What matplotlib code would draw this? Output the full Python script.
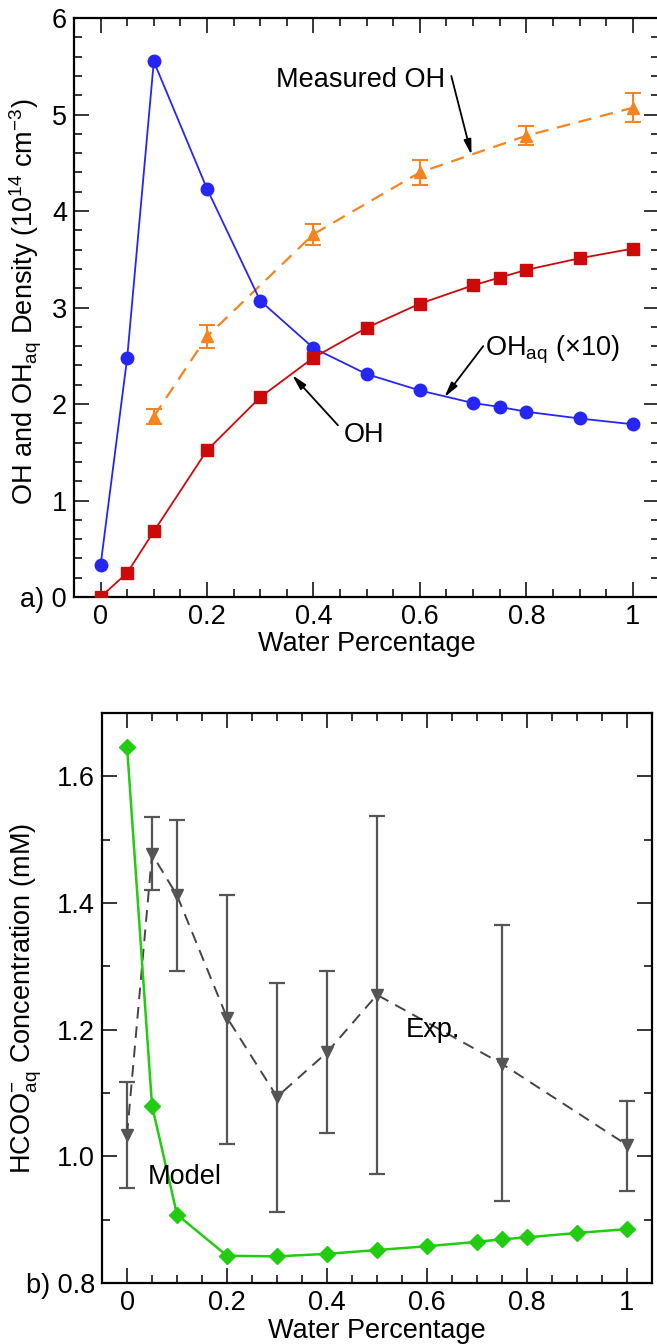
import matplotlib
matplotlib.use("Agg")
import matplotlib.pyplot as plt
from matplotlib.ticker import MultipleLocator
import numpy as np

plt.rcParams['font.family'] = ['Liberation Sans', 'DejaVu Sans']
plt.rcParams['mathtext.fontset'] = 'custom'
plt.rcParams['mathtext.rm'] = 'Liberation Sans'
plt.rcParams['mathtext.it'] = 'Liberation Sans:italic'
plt.rcParams['mathtext.default'] = 'regular'

FS = 19.5

# panel a) data
x_model = [0, 0.05, 0.1, 0.2, 0.3, 0.4, 0.5, 0.6, 0.7, 0.75, 0.8, 0.9, 1.0]
oh = [0.33, 2.48, 5.55, 4.23, 3.07, 2.58, 2.31, 2.14, 2.01, 1.97, 1.92, 1.85, 1.79]
oh_aq = [0.0, 0.25, 0.68, 1.52, 2.07, 2.48, 2.79, 3.04, 3.23, 3.31, 3.39, 3.51, 3.61]
x_meas = [0.1, 0.2, 0.4, 0.6, 0.8, 1.0]
oh_meas = [1.87, 2.70, 3.76, 4.40, 4.78, 5.07]
oh_meas_err = [0.08, 0.12, 0.11, 0.13, 0.10, 0.15]

# panel b) data
hcoo_model = [1.647, 1.08, 0.908, 0.843, 0.842, 0.846, 0.852, 0.858, 0.865, 0.869, 0.872, 0.879, 0.885]
x_exp = [0, 0.05, 0.1, 0.2, 0.3, 0.4, 0.5, 0.75, 1.0]
hcoo_exp = [1.034, 1.477, 1.412, 1.219, 1.094, 1.164, 1.255, 1.146, 1.018]
hcoo_exp_hi = [1.117, 1.535, 1.531, 1.413, 1.273, 1.292, 1.537, 1.365, 1.088]
hcoo_exp_lo = [0.950, 1.421, 1.293, 1.020, 0.912, 1.037, 0.972, 0.929, 0.946]

xticks = [0, 0.2, 0.4, 0.6, 0.8, 1]
xticklabels = ['0', '0.2', '0.4', '0.6', '0.8', '1']

fig = plt.figure(figsize=(6.57, 13.44), dpi=100)
ax1 = fig.add_axes([0.1126, 0.5558, 0.891, 0.4308])
ax2 = fig.add_axes([0.1553, 0.0454, 0.837, 0.4241])


def style(ax):
    ax.tick_params(which='both', direction='in', top=True, right=True, labelsize=FS, width=1.1)
    ax.tick_params(which='major', length=11, pad=5)
    ax.tick_params(which='minor', length=6)
    for s in ax.spines.values():
        s.set_linewidth(1.6)
    ax.set_xlim(-0.05, 1.05)
    ax.set_xticks(xticks)
    ax.set_xticklabels(xticklabels)
    ax.xaxis.set_minor_locator(MultipleLocator(0.05))
    ax.set_xlabel('Water Percentage', fontsize=FS)


# ---- panel a
style(ax1)
ax1.plot(x_model, oh, '-o', color='#2626F2', lw=1.3, ms=9, zorder=3)
ax1.plot(x_model, oh_aq, '-s', color='#CC0A0A', lw=1.3, ms=8, zorder=3)
ax1.errorbar(x_meas, oh_meas, yerr=oh_meas_err, fmt='^', color='#F5831F', ms=8,
             capsize=5.5, elinewidth=1.5, capthick=1.5, zorder=2)
ax1.plot(x_meas, oh_meas, '--', color='#F5831F', lw=1.6, dashes=(6, 4), zorder=2)
ax1.set_ylim(0, 6)
ax1.set_yticks([0, 1, 2, 3, 4, 5, 6])
ax1.set_yticklabels(['a) 0', '1', '2', '3', '4', '5', '6'])
ax1.yaxis.set_minor_locator(MultipleLocator(0.2))
ax1.set_ylabel('OH and OH$_{aq}$ Density (10$^{14}$ cm$^{-3}$)', fontsize=FS)
ax1.yaxis.set_label_coords(-0.052, 0.51)
ax1.xaxis.set_label_coords(0.5, -0.058)

arr = dict(arrowstyle='-|>,head_length=0.9,head_width=0.22', color='black', lw=1.3,
           shrinkA=0, shrinkB=0)
ax1.text(0.488, 5.36, 'Measured OH', fontsize=FS, ha='center', va='center')
ax1.annotate('', xy=(0.697, 4.58), xytext=(0.659, 5.40), arrowprops=arr)
ax1.text(0.723, 2.56, 'OH$_{aq}$ (\u00d710)', fontsize=FS, ha='left', va='center')
ax1.annotate('', xy=(0.646, 2.07), xytext=(0.719, 2.60), arrowprops=arr)
ax1.text(0.495, 1.68, 'OH', fontsize=FS, ha='center', va='center')
ax1.annotate('', xy=(0.36, 2.30), xytext=(0.446, 1.78), arrowprops=arr)

# ---- panel b
style(ax2)
ax2.plot(x_model, hcoo_model, '-D', color='#22CC11', lw=1.8, ms=8, zorder=3)
yerr = [np.array(hcoo_exp) - np.array(hcoo_exp_lo), np.array(hcoo_exp_hi) - np.array(hcoo_exp)]
ax2.errorbar(x_exp, hcoo_exp, yerr=yerr, fmt='v', color='#555555', ms=8,
             capsize=6, elinewidth=1.6, capthick=1.6, zorder=2)
ax2.plot(x_exp, hcoo_exp, '--', color='#444444', lw=1.4, dashes=(6, 4), zorder=2)
ax2.set_ylim(0.8, 1.7)
ax2.set_yticks([0.8, 1.0, 1.2, 1.4, 1.6])
ax2.set_yticklabels(['b) 0.8', '1.0', '1.2', '1.4', '1.6'])
ax2.yaxis.set_minor_locator(MultipleLocator(0.1))
ax2.set_ylabel('HCOO$^{-}_{aq}$ Concentration (mM)', fontsize=FS)
ax2.yaxis.set_label_coords(-0.105, 0.5)
ax2.xaxis.set_label_coords(0.5, -0.062)
ax2.text(0.612, 1.2, 'Exp.', fontsize=FS, ha='center', va='center')
ax2.text(0.116, 0.968, 'Model', fontsize=FS, ha='center', va='center')

fig.savefig('out.png', dpi=100)
